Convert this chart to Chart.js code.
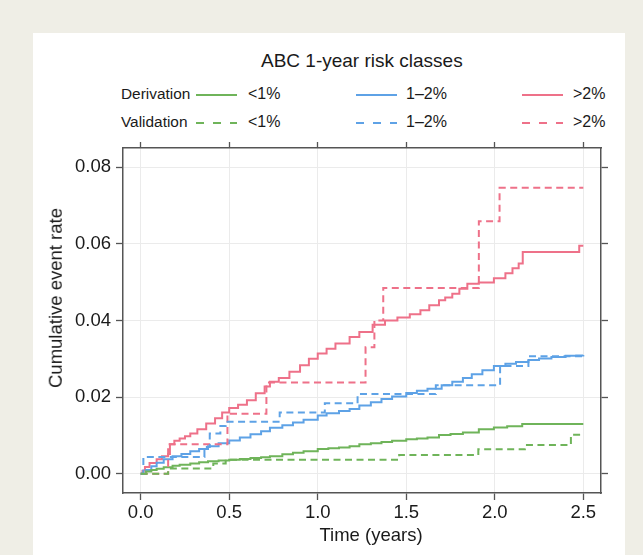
<!DOCTYPE html>
<html>
<head>
<meta charset="utf-8">
<script src="https://cdn.jsdelivr.net/npm/chart.js@4.4.0/dist/chart.umd.min.js"></script>
<style>
  html, body { margin: 0; padding: 0; }
  body { width: 643px; height: 555px; background: #efeee6; position: relative; overflow: hidden;
         font-family: 'Liberation Sans', Arial, sans-serif; color: #1a1a1a; }
  #panel { position: absolute; left: 33px; top: 33px; width: 592px; height: 540px; background: #fff; }
  #chart { position: absolute; left: 0; top: 0; }
  .txt { position: absolute; white-space: nowrap; transform: translateY(-50%); line-height: 1; }
  .key { position: absolute; }
  #xtitle { transform: translate(-50%, -50%); }
  #ytitle { transform: translate(-50%, -50%) rotate(-90deg); }
</style>
</head>
<body>
<div id="panel"></div>
<div class="txt" id="title" style="left:261px; top:60px; font-size:19px;">ABC 1-year risk classes</div>
<div id="legend"></div>
<canvas id="chart" width="643" height="555"></canvas>
<div class="txt" id="xtitle" style="left:371px; top:535px; font-size:18.5px;">Time (years)</div>
<div class="txt" id="ytitle" style="left:56px; top:298px; font-size:18.5px;">Cumulative event rate</div>
<script>
// ---- data ----
const xTicks = [0, 0.5, 1, 1.5, 2, 2.5];
const yTicks = [0, 0.02, 0.04, 0.06, 0.08];
const classes = ['<1%', '1\u20132%', '>2%'];
const cohorts = ['Derivation', 'Validation'];

// derivation cohort, <1%
const derivLowT = [0, 0.03, 0.06, 0.09, 0.13, 0.18, 0.22, 0.28, 0.33, 0.38, 0.44, 0.5, 0.56, 0.62, 0.68, 0.73, 0.8, 0.86, 0.92, 1.0, 1.06, 1.12, 1.18, 1.235, 1.3, 1.36, 1.42, 1.5, 1.56, 1.62, 1.685, 1.75, 1.82, 1.91, 1.995, 2.07, 2.155, 2.5];
const derivLowV = [0, 0.0006, 0.001, 0.0013, 0.0017, 0.0021, 0.0024, 0.0027, 0.003, 0.0033, 0.0035, 0.0037, 0.0039, 0.0041, 0.0043, 0.0046, 0.0051, 0.0055, 0.0059, 0.0065, 0.0067, 0.0069, 0.0072, 0.0077, 0.008, 0.0083, 0.0086, 0.009, 0.0092, 0.0095, 0.0101, 0.0104, 0.0108, 0.0116, 0.0121, 0.0124, 0.013, 0.013];

// derivation cohort, 1-2%
const derivMidT = [0, 0.03, 0.06, 0.09, 0.13, 0.18, 0.23, 0.28, 0.33, 0.38, 0.44, 0.5, 0.56, 0.62, 0.68, 0.73, 0.8, 0.86, 0.92, 1.0, 1.05, 1.12, 1.18, 1.235, 1.3, 1.36, 1.42, 1.5, 1.56, 1.62, 1.7, 1.76, 1.82, 1.87, 1.93, 1.995, 2.06, 2.12, 2.19, 2.25, 2.32, 2.4, 2.46, 2.5];
const derivMidV = [0, 0.001, 0.002, 0.0029, 0.0038, 0.0046, 0.0052, 0.0059, 0.0065, 0.0072, 0.008, 0.0087, 0.0095, 0.0103, 0.0111, 0.012, 0.0127, 0.0134, 0.0141, 0.0152, 0.0158, 0.0164, 0.0169, 0.0178, 0.0187, 0.0195, 0.0202, 0.0211, 0.0217, 0.0222, 0.0231, 0.024, 0.025, 0.026, 0.027, 0.0281, 0.0287, 0.0292, 0.0297, 0.0301, 0.0305, 0.0308, 0.0309, 0.031];

// derivation cohort, >2%
const derivHighT = [0, 0.01, 0.024, 0.05, 0.09, 0.12, 0.155, 0.165, 0.19, 0.22, 0.25, 0.28, 0.32, 0.37, 0.42, 0.46, 0.5, 0.55, 0.6, 0.65, 0.7, 0.73, 0.78, 0.84, 0.9, 0.95, 1.0, 1.05, 1.1, 1.18, 1.235, 1.31, 1.38, 1.45, 1.52, 1.58, 1.63, 1.685, 1.72, 1.76, 1.8, 1.845, 1.91, 1.995, 2.06, 2.1, 2.135, 2.158, 2.477, 2.5];
const derivHighV = [0, 0.0008, 0.0018, 0.0028, 0.0038, 0.0046, 0.0052, 0.0077, 0.0086, 0.0092, 0.0098, 0.0105, 0.0116, 0.0131, 0.0145, 0.016, 0.0172, 0.018, 0.0192, 0.021, 0.0228, 0.024, 0.025, 0.0266, 0.0283, 0.03, 0.0314, 0.0326, 0.034, 0.0357, 0.037, 0.0389, 0.04, 0.0408, 0.0416, 0.0427, 0.044, 0.0453, 0.046, 0.047, 0.0483, 0.0496, 0.0499, 0.051, 0.0523, 0.0536, 0.0549, 0.0579, 0.0595, 0.0595];

// validation cohort
const validLowT = [0, 0.155, 0.41, 0.48, 1.46, 1.907, 2.17, 2.43, 2.5];
const validLowV = [0, 0.0014, 0.0027, 0.0037, 0.0049, 0.0064, 0.0075, 0.0102, 0.0102];
const validMidT = [0, 0.015, 0.36, 0.39, 0.45, 0.48, 0.785, 1.04, 1.225, 1.667, 2.03, 2.19, 2.5];
const validMidV = [0, 0.0044, 0.007, 0.0105, 0.0125, 0.0136, 0.016, 0.0184, 0.0208, 0.0231, 0.0281, 0.0307, 0.0307];
const validHighT = [0, 0.155, 0.49, 0.71, 1.27, 1.32, 1.37, 1.91, 2.027, 2.5];
const validHighV = [0, 0.0077, 0.0157, 0.0238, 0.033, 0.04, 0.0485, 0.0659, 0.0746, 0.0746];

const colors = ['#6fb45a', '#5ea2e6', '#ee7189'];
const dash = [7, 4.5];
const axisColor = '#555';
const gridColor = '#ebebeb';
const fontFamily = "'Liberation Sans', Arial, sans-serif";

const pts = (ts, vs) => ts.map((t, i) => ({ x: t, y: vs[i] }));

function series(label, ts, vs, color, dashed) {
  return {
    label: label,
    data: pts(ts, vs),
    borderColor: color,
    borderWidth: 2,
    borderDash: dashed ? dash : [],
    pointRadius: 0,
    stepped: true,
    fill: false
  };
}

// ---- legend (two rows, cohorts x risk classes) ----
const legend = document.getElementById('legend');
const rowY = [94, 122];
const keyX = [196, 356, 522];
const labelX = [248, 406, 573];
const esc = s => s.replace('<', '&lt;').replace('>', '&gt;');
cohorts.forEach((name, r) => {
  legend.insertAdjacentHTML('beforeend',
    `<div class="txt" style="left:121px; top:${rowY[r]}px; font-size:15.4px;">${name}</div>`);
  classes.forEach((c, k) => {
    const da = r === 1 ? 'stroke-dasharray="8 9"' : '';
    legend.insertAdjacentHTML('beforeend',
      `<svg class="key" width="41" height="4" style="left:${keyX[k]}px; top:${rowY[r] - 1}px">` +
      `<line x1="0" y1="2" x2="41" y2="2" stroke="${colors[k]}" stroke-width="2" ${da}/></svg>` +
      `<div class="txt" style="left:${labelX[k]}px; top:${rowY[r]}px; font-size:16px;">${esc(c)}</div>`);
  });
});

// ---- chart ----
Chart.defaults.font.family = fontFamily;
Chart.defaults.color = '#1a1a1a';

const fixTicks = list => scale => { scale.ticks = list.map(v => ({ value: v })); };

new Chart(document.getElementById('chart').getContext('2d'), {
  type: 'line',
  data: {
    datasets: [
      series('Validation <1%', validLowT, validLowV, colors[0], true),
      series('Validation 1-2%', validMidT, validMidV, colors[1], true),
      series('Validation >2%', validHighT, validHighV, colors[2], true),
      series('Derivation <1%', derivLowT, derivLowV, colors[0], false),
      series('Derivation 1-2%', derivMidT, derivMidV, colors[1], false),
      series('Derivation >2%', derivHighT, derivHighV, colors[2], false)
    ]
  },
  options: {
    responsive: false,
    animation: false,
    layout: { padding: 0 },
    plugins: { legend: { display: false }, tooltip: { enabled: false } },
    scales: {
      x: {
        type: 'linear', position: 'bottom', min: -0.1, max: 2.6,
        afterBuildTicks: fixTicks(xTicks),
        afterFit: s => { s.height = 62; },
        grid: { color: gridColor, lineWidth: 1, tickColor: axisColor, tickLength: 7, tickWidth: 1.3 },
        border: { color: axisColor, width: 1.5 },
        ticks: { font: { size: 18.5 }, padding: 2, maxRotation: 0, autoSkip: false,
                 callback: v => v.toFixed(1) }
      },
      x2: {
        type: 'linear', position: 'top', min: -0.1, max: 2.6,
        afterBuildTicks: fixTicks(xTicks),
        afterFit: s => { s.height = 148; },
        grid: { drawOnChartArea: false, tickColor: axisColor, tickLength: 6, tickWidth: 1.3 },
        border: { color: axisColor, width: 1.5 },
        ticks: { display: false }
      },
      y: {
        type: 'linear', position: 'left', min: -0.005, max: 0.085,
        afterBuildTicks: fixTicks(yTicks),
        afterFit: s => { s.width = 123; },
        grid: { color: gridColor, lineWidth: 1, tickColor: axisColor, tickLength: 7, tickWidth: 1.3 },
        border: { color: axisColor, width: 1.5 },
        ticks: { font: { size: 18.5 }, padding: 5, callback: v => v.toFixed(2) }
      },
      y2: {
        type: 'linear', position: 'right', min: -0.005, max: 0.085,
        afterBuildTicks: fixTicks(yTicks),
        afterFit: s => { s.width = 42; },
        grid: { drawOnChartArea: false, tickColor: axisColor, tickLength: 7, tickWidth: 1.3 },
        border: { color: axisColor, width: 1.5 },
        ticks: { display: false }
      }
    }
  }
});
</script>
</body>
</html>
